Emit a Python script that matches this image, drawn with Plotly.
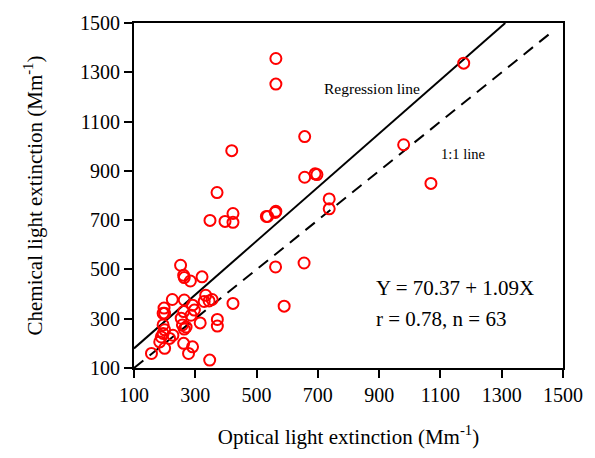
import plotly.graph_objects as go

# Observed data (optical vs chemical light extinction, Mm^-1)
optical = [563, 563, 657, 657, 691, 697, 980, 1069, 1176, 737, 737, 536, 563,
           419, 371, 348, 397, 423, 423, 532, 561,
           562, 655, 590,
           252, 262, 264, 284, 322, 225, 264, 334, 345, 355, 329, 423,
           198, 195, 200, 291, 297, 262, 254, 286, 316, 372, 372,
           195, 200, 195, 258, 264, 270, 227, 216, 184, 189,
           200, 157, 262, 291, 278, 347]
chemical = [1356, 1252, 1039, 874, 888, 885, 1006, 849, 1337, 786, 746, 715, 736,
            982, 812, 699, 695, 727, 691, 715, 731,
            510, 526, 351,
            517, 476, 467, 453, 470, 378, 376, 395, 372, 378, 370, 362,
            343, 322, 322, 355, 335, 329, 302, 314, 283, 297, 270,
            275, 255, 240, 275, 258, 266, 233, 220, 206, 226,
            180, 159, 200, 186, 159, 132]

intercept = 70.37
slope = 1.09
axis_min, axis_max = 100, 1500
one_to_one_end = 1460
tick_vals = [100, 300, 500, 700, 900, 1100, 1300, 1500]

reg_x_end = (axis_max - intercept) / slope
reg_x = [axis_min, reg_x_end]
reg_y = [intercept + slope * v for v in reg_x]

fig = go.Figure()
fig.add_trace(go.Scatter(x=reg_x, y=reg_y, mode="lines",
                         line=dict(color="black", width=2), showlegend=False))
fig.add_trace(go.Scatter(x=[axis_min, one_to_one_end], y=[axis_min, one_to_one_end], mode="lines",
                         line=dict(color="black", width=2, dash="12px,8px"), showlegend=False))
fig.add_trace(go.Scatter(x=optical, y=chemical, mode="markers",
                         marker=dict(symbol="circle-open", size=11, color="red",
                                     line=dict(width=2, color="red")),
                         showlegend=False))

font_family = "Liberation Serif"
axis_common = dict(range=[axis_min, axis_max], tickvals=tick_vals, showgrid=False, zeroline=False,
                   showline=True, linecolor="black", linewidth=2, mirror=True,
                   ticks="outside", ticklen=8, tickwidth=2, tickcolor="black",
                   tickfont=dict(family=font_family, size=20, color="black"))

fig.update_xaxes(**axis_common,
                 title=dict(text="Optical light extinction (Mm<sup>-1</sup>)",
                            font=dict(family=font_family, size=21, color="black"), standoff=24))
fig.update_yaxes(**axis_common,
                 title=dict(text="Chemical light extinction (Mm<sup>-1</sup>)",
                            font=dict(family=font_family, size=21, color="black"), standoff=32))

fig.add_annotation(x=877, y=1233, text="Regression line", showarrow=False,
                   font=dict(family=font_family, size=15.5, color="black"))
fig.add_annotation(x=1174, y=970, text="1:1 line", showarrow=False,
                   font=dict(family=font_family, size=14.5, color="black"))
fig.add_annotation(x=884, y=424, text="Y = 70.37 + 1.09X", showarrow=False, xanchor="left",
                   font=dict(family=font_family, size=21, color="black"))
fig.add_annotation(x=884, y=298, text="r = 0.78, n = 63", showarrow=False, xanchor="left",
                   font=dict(family=font_family, size=21, color="black"))

fig.update_layout(width=595, height=458, margin=dict(l=134, r=27, t=22, b=90),
                  paper_bgcolor="white", plot_bgcolor="white")

fig.write_html("out.html")
